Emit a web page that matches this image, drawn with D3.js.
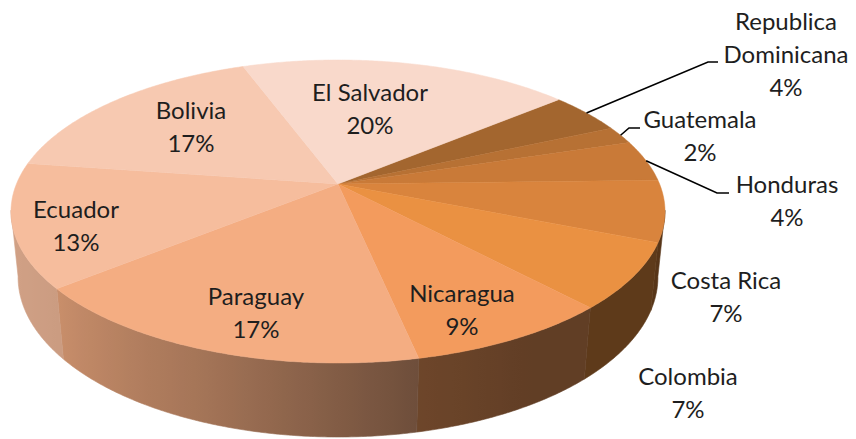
<!DOCTYPE html>
<html>
<head>
<meta charset="utf-8">
<script src="https://cdn.jsdelivr.net/npm/d3@7"></script>
<style>
  html, body { margin: 0; background: #fff; }
  svg { display: block; }
</style>
</head>
<body>
<div id="chart"></div>
<script>
// data (share of total, in %)
const countries = ["Republica Dominicana", "Guatemala", "Honduras", "Costa Rica", "Colombia",
                   "Nicaragua", "Paraguay", "Ecuador", "Bolivia", "El Salvador"];
const shares = [4.4, 1.9, 4.4, 6.5, 7.0, 8.6, 17.4, 13.2, 17.1, 19.5];
const sliceColors = ["#a3662f", "#b77134", "#c97a38", "#d9843d", "#ea9142",
                     "#f39b5d", "#f4ad82", "#f6bd9d", "#f7c9b1", "#f9d9cb"];
const firstSliceAngle = 50; // degrees, clockwise from 12 o'clock

// label layout: centre x, first baseline, optional leader line
const labelLayout = [
  { x: 786, y: 30, wrap: true, elbow: [708, 62], end: [718, 62] },
  { x: 700, y: 128, elbow: [629, 128], end: [640, 128] },
  { x: 787, y: 193, elbow: [717, 193], end: [729, 193] },
  { x: 726, y: 289 },
  { x: 688, y: 385 },
  { x: 462, y: 302 },
  { x: 256, y: 305 },
  { x: 76, y: 218 },
  { x: 191, y: 119 },
  { x: 370, y: 101 }
];

const width = 856, height = 439;
const svg = d3.select("#chart").append("svg")
  .attr("width", width).attr("height", height);
const defs = svg.append("defs");

// perspective view of a unit disc
const cx = 338, cy = 184, F = 1577, D = 4.904;
const sinA = 0.4556, cosA = 0.890, thick = 0.2306;
function proj(theta, r, h) {
  const u = r * Math.sin(theta), v = r * Math.cos(theta);
  const yc = v * sinA + h * cosA, zc = D + v * cosA - h * sinA;
  return [cx + F * u / zc, cy - F * yc / zc];
}

const rad = Math.PI / 180;
const pie = d3.pie().sort(null).value(d => d)
  .startAngle(firstSliceAngle * rad).endAngle(firstSliceAngle * rad + 2 * Math.PI);
const arcs = pie(shares);

// darkening of the wall, by angle (degrees)
const shade = d3.scaleLinear()
  .domain([90, 150, 168, 200, 232, 270])
  .range([0.40, 0.40, 0.45, 0.67, 0.83, 0.87])
  .clamp(true);

function scaled(col, m) {
  const c = d3.rgb(col);
  return d3.rgb(c.r * m, c.g * m, c.b * m).formatHex();
}

// front wall: one path per slice, with a horizontal gradient
const wallFrom = 100 * rad, wallTo = 260 * rad;
const walls = svg.append("g");
arcs.forEach((a, i) => {
  const t0 = Math.max(a.startAngle, wallFrom), t1 = Math.min(a.endAngle, wallTo);
  if (t1 <= t0) return;
  const n = Math.max(2, Math.ceil((t1 - t0) / (0.5 * rad)));
  const ts = d3.range(n + 1).map(k => t0 + (t1 - t0) * k / n);
  const x0 = proj(t0, 1, 0)[0], x1 = proj(t1, 1, 0)[0];

  const grad = defs.append("linearGradient")
    .attr("id", "wall" + i)
    .attr("gradientUnits", "userSpaceOnUse")
    .attr("x1", x0).attr("y1", 0).attr("x2", x1).attr("y2", 0);
  ts.filter((t, k) => k % 4 === 0 || k === n).forEach(t => {
    grad.append("stop")
      .attr("offset", Math.abs(x1 - x0) < 0.01 ? 0 : (proj(t, 1, 0)[0] - x0) / (x1 - x0))
      .attr("stop-color", scaled(sliceColors[i], shade(t / rad)));
  });

  const pts = ts.map(t => proj(t, 1, 0)).concat(ts.slice().reverse().map(t => proj(t, 1, -thick)));
  walls.append("path")
    .attr("d", "M" + pts.map(p => p.join(",")).join("L") + "Z")
    .attr("fill", `url(#wall${i})`)
    .attr("stroke", `url(#wall${i})`)
    .attr("stroke-width", 0.6);
});

// top faces
function topPath(a) {
  const pts = [proj(0, 0, 0)];
  const n = Math.max(2, Math.ceil((a.endAngle - a.startAngle) / (0.5 * rad)));
  for (let k = 0; k <= n; k++) {
    pts.push(proj(a.startAngle + (a.endAngle - a.startAngle) * k / n, 1, 0));
  }
  return "M" + pts.map(p => p.join(",")).join("L") + "Z";
}

svg.append("g").selectAll("path")
  .data(arcs)
  .join("path")
  .attr("d", topPath)
  .attr("fill", (d, i) => sliceColors[i])
  .attr("stroke", (d, i) => sliceColors[i])
  .attr("stroke-width", 0.5);

// leader lines
const leaders = svg.append("g")
  .attr("fill", "none").attr("stroke", "#000").attr("stroke-width", 1.6);
arcs.forEach((a, i) => {
  const L = labelLayout[i];
  if (!L.elbow) return;
  const rim = proj((a.startAngle + a.endAngle) / 2, 1, 0);
  leaders.append("path")
    .attr("d", `M${rim[0]},${rim[1]}L${L.elbow[0]},${L.elbow[1]}L${L.end[0]},${L.end[1]}`);
});

// data labels
const labels = svg.append("g")
  .attr("font-family", "Lato, 'Open Sans', sans-serif")
  .attr("font-size", 24)
  .attr("fill", "#1e1e1e")
  .attr("text-anchor", "middle");

countries.forEach((name, i) => {
  const L = labelLayout[i];
  const lines = (L.wrap ? name.split(" ") : [name]).concat(Math.round(shares[i]) + "%");
  const t = labels.append("text").attr("x", L.x).attr("y", L.y);
  lines.forEach((s, k) => {
    t.append("tspan").attr("x", L.x).attr("dy", k === 0 ? 0 : 33).text(s);
  });
});
</script>
</body>
</html>
